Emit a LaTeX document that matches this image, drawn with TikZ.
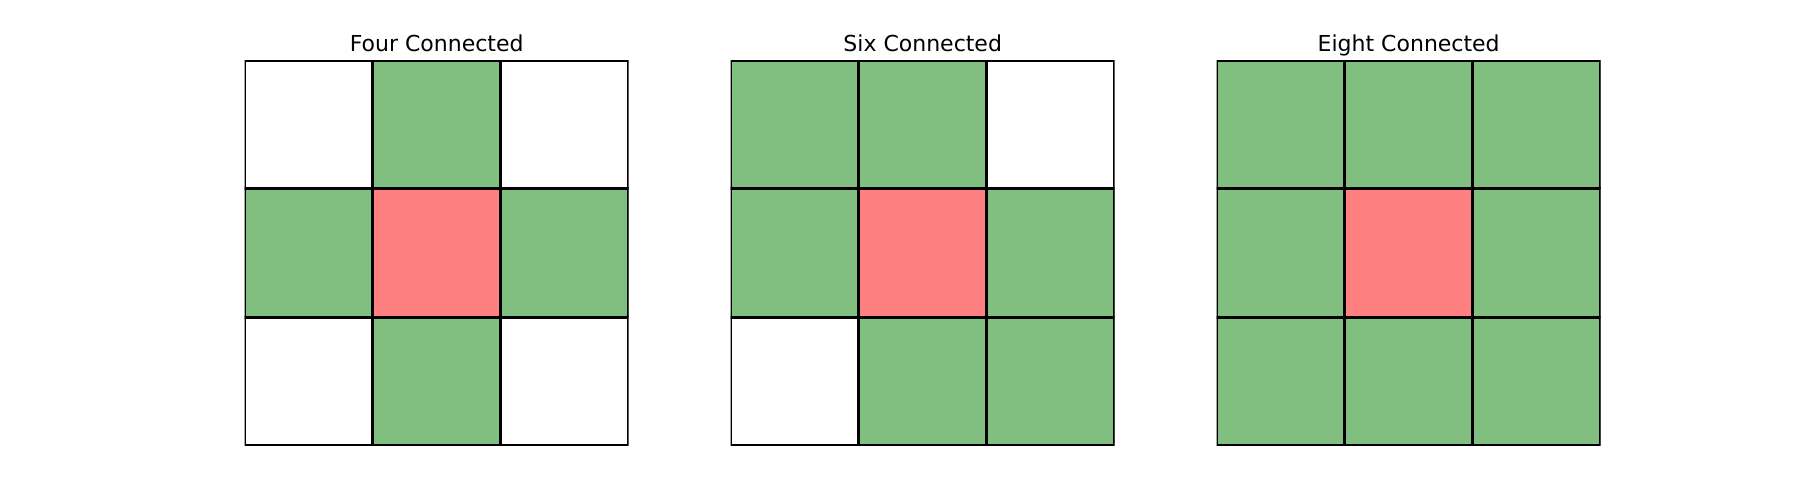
\documentclass[tikz,border=0pt]{standalone}
\usepackage{fontspec}
\setmainfont{DejaVu Sans}
\definecolor{g}{RGB}{128,191,128}
\definecolor{r}{RGB}{255,128,128}
\colorlet{w}{white}
\begin{document}
\begin{tikzpicture}[x=1pt,y=-1pt,
  cell/.style={draw=black,line width=3pt,minimum size=128pt,inner sep=0pt,outer sep=0pt},
  gridtitle/.style={font=\fontsize{22}{26}\selectfont,anchor=base,inner sep=0pt}]
\useasboundingbox (0,0) rectangle (1800,500);
\foreach \gx/\gname/\gtitle/\pat in {
  244.7/four/Four Connected/{w,g,w,g,r,g,w,g,w},
  730.7/six/Six Connected/{g,g,w,g,r,g,w,g,g},
  1216.7/eight/Eight Connected/{g,g,g,g,r,g,g,g,g}}{
  \node[gridtitle] (\gname-title) at (\gx+192,52) {\gtitle};
  \begin{scope}
    \clip (\gx,61) rectangle +(384,384);
    \foreach \c [count=\k from 0] in \pat {
      \pgfmathtruncatemacro{\col}{mod(\k,3)}
      \pgfmathtruncatemacro{\row}{int(\k/3)}
      \node[cell,fill=\c] (\gname-\k) at (\gx+64+128*\col,125+128*\row) {};
    }
  \end{scope}
}
\end{tikzpicture}
\end{document}
